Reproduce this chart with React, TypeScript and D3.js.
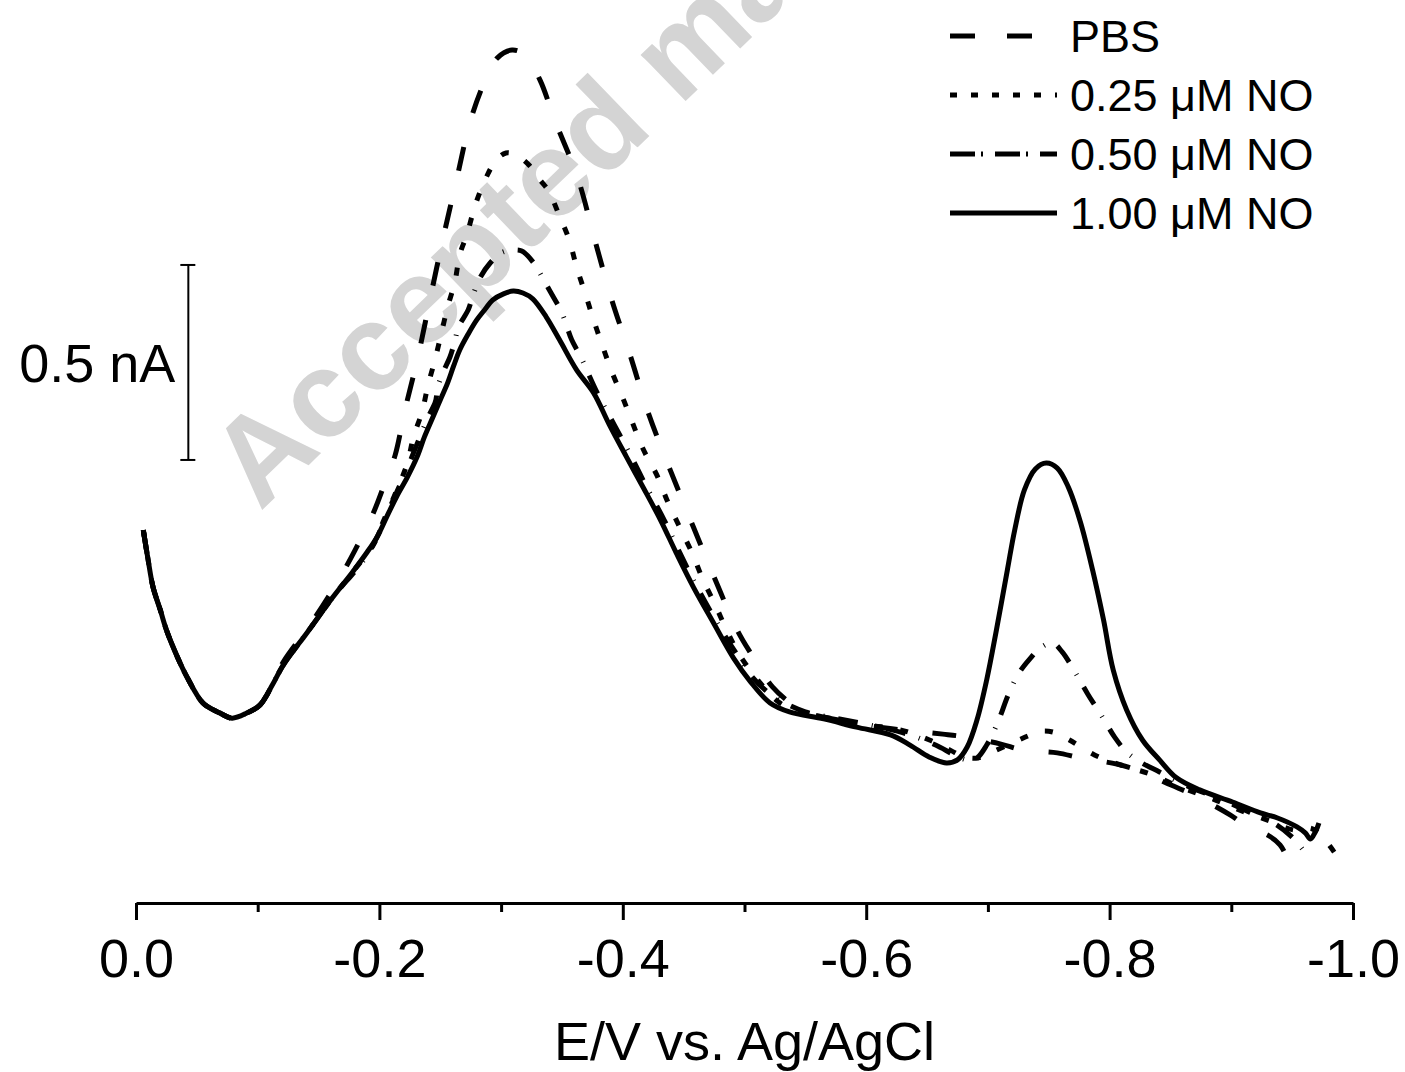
import React, { useEffect, useRef } from 'react';
import * as d3 from 'd3';

// potential (V vs Ag/AgCl) and current (nA, arbitrary offset)
const commonStart = [
  [-0.006, 0.956], [-0.010, 0.879], [-0.014, 0.810], [-0.020, 0.751], [-0.025, 0.700],
  [-0.034, 0.631], [-0.042, 0.579], [-0.055, 0.513], [-0.069, 0.487], [-0.079, 0.474],
  [-0.091, 0.487], [-0.102, 0.508],
];

const pbs = [
  [-0.121, 0.618], [-0.143, 0.713], [-0.164, 0.815], [-0.180, 0.905], [-0.195, 1.000],
  [-0.206, 1.090], [-0.213, 1.149], [-0.221, 1.264], [-0.232, 1.405], [-0.242, 1.554],
  [-0.252, 1.700], [-0.263, 1.849], [-0.275, 2.008], [-0.287, 2.110], [-0.297, 2.167],
  [-0.309, 2.187], [-0.320, 2.174], [-0.332, 2.110], [-0.344, 2.008], [-0.363, 1.859],
  [-0.377, 1.700], [-0.391, 1.546], [-0.406, 1.405], [-0.421, 1.256], [-0.439, 1.110],
  [-0.458, 0.964], [-0.477, 0.821], [-0.494, 0.700], [-0.506, 0.636], [-0.523, 0.554],
  [-0.540, 0.508], [-0.554, 0.485], [-0.578, 0.469], [-0.603, 0.454], [-0.628, 0.444],
  [-0.663, 0.433], [-0.681, 0.426], [-0.710, 0.408], [-0.729, 0.392], [-0.757, 0.385],
  [-0.776, 0.372], [-0.806, 0.356], [-0.825, 0.338], [-0.850, 0.303], [-0.869, 0.277],
  [-0.899, 0.226], [-0.915, 0.192], [-0.930, 0.174], [-0.940, 0.149], [-0.947, 0.110],
  [-0.952, 0.085], [-0.958, 0.069],
];

const no025 = [
  [-0.112, 0.559], [-0.121, 0.610], [-0.141, 0.695], [-0.162, 0.785], [-0.178, 0.849],
  [-0.195, 0.918], [-0.203, 0.977], [-0.215, 1.064], [-0.223, 1.128], [-0.228, 1.195],
  [-0.235, 1.259], [-0.240, 1.328], [-0.246, 1.397], [-0.251, 1.462], [-0.256, 1.528],
  [-0.262, 1.592], [-0.266, 1.662], [-0.272, 1.715], [-0.279, 1.792], [-0.288, 1.862],
  [-0.296, 1.905], [-0.304, 1.923], [-0.312, 1.918], [-0.323, 1.892], [-0.332, 1.854],
  [-0.339, 1.826], [-0.347, 1.769], [-0.356, 1.700], [-0.362, 1.631], [-0.369, 1.564],
  [-0.376, 1.495], [-0.383, 1.431], [-0.391, 1.362], [-0.400, 1.295], [-0.408, 1.231],
  [-0.417, 1.162], [-0.428, 1.097], [-0.437, 1.028], [-0.447, 0.962], [-0.457, 0.897],
  [-0.466, 0.828], [-0.476, 0.764], [-0.486, 0.695], [-0.496, 0.636], [-0.513, 0.564],
  [-0.529, 0.513], [-0.546, 0.490], [-0.570, 0.474], [-0.603, 0.456], [-0.628, 0.444],
  [-0.652, 0.418], [-0.669, 0.392], [-0.681, 0.374], [-0.692, 0.372], [-0.702, 0.385],
  [-0.722, 0.413], [-0.735, 0.431], [-0.745, 0.441], [-0.756, 0.436], [-0.767, 0.418],
  [-0.788, 0.379], [-0.809, 0.354], [-0.833, 0.331], [-0.858, 0.297], [-0.883, 0.269],
  [-0.907, 0.238], [-0.932, 0.210], [-0.952, 0.187], [-0.965, 0.192], [-0.973, 0.177],
  [-0.981, 0.146], [-0.988, 0.115],
];

const no050 = [
  [-0.112, 0.559], [-0.121, 0.610], [-0.141, 0.695], [-0.162, 0.785], [-0.187, 0.879],
  [-0.199, 0.944], [-0.207, 1.003], [-0.215, 1.059], [-0.223, 1.115], [-0.229, 1.162],
  [-0.235, 1.208], [-0.240, 1.246], [-0.246, 1.285], [-0.248, 1.323], [-0.252, 1.359],
  [-0.258, 1.400], [-0.262, 1.441], [-0.265, 1.477], [-0.273, 1.521], [-0.277, 1.559],
  [-0.283, 1.605], [-0.291, 1.641], [-0.300, 1.667], [-0.309, 1.674], [-0.317, 1.672],
  [-0.328, 1.636], [-0.334, 1.603], [-0.342, 1.559], [-0.350, 1.513], [-0.358, 1.444],
  [-0.365, 1.403], [-0.379, 1.308], [-0.393, 1.226], [-0.407, 1.144], [-0.420, 1.064],
  [-0.434, 0.982], [-0.447, 0.897], [-0.461, 0.810], [-0.477, 0.721], [-0.494, 0.636],
  [-0.507, 0.577], [-0.519, 0.541], [-0.533, 0.513], [-0.550, 0.490], [-0.578, 0.472],
  [-0.611, 0.451], [-0.636, 0.431], [-0.657, 0.405], [-0.673, 0.379], [-0.683, 0.367],
  [-0.691, 0.372], [-0.699, 0.405], [-0.708, 0.462], [-0.717, 0.536], [-0.726, 0.592],
  [-0.735, 0.628], [-0.743, 0.654], [-0.753, 0.667], [-0.761, 0.644], [-0.772, 0.590],
  [-0.782, 0.536], [-0.795, 0.472], [-0.804, 0.426], [-0.814, 0.387], [-0.825, 0.362],
  [-0.841, 0.336], [-0.866, 0.297], [-0.891, 0.267], [-0.915, 0.233], [-0.936, 0.203],
  [-0.950, 0.169], [-0.959, 0.136], [-0.962, 0.123],
];

const no100 = [
  [-0.112, 0.559], [-0.121, 0.610], [-0.141, 0.695], [-0.162, 0.785], [-0.178, 0.849],
  [-0.190, 0.900], [-0.198, 0.938], [-0.206, 0.990], [-0.214, 1.041], [-0.223, 1.092],
  [-0.231, 1.144], [-0.237, 1.195], [-0.244, 1.246], [-0.250, 1.290], [-0.256, 1.333],
  [-0.261, 1.377], [-0.266, 1.418], [-0.273, 1.459], [-0.280, 1.495], [-0.287, 1.523],
  [-0.293, 1.546], [-0.302, 1.562], [-0.310, 1.569], [-0.318, 1.564], [-0.326, 1.549],
  [-0.337, 1.503], [-0.348, 1.444], [-0.362, 1.367], [-0.376, 1.308], [-0.389, 1.226],
  [-0.403, 1.144], [-0.417, 1.064], [-0.431, 0.982], [-0.444, 0.897], [-0.458, 0.810],
  [-0.474, 0.721], [-0.491, 0.628], [-0.505, 0.567], [-0.521, 0.513], [-0.537, 0.490],
  [-0.565, 0.472], [-0.592, 0.451], [-0.620, 0.431], [-0.636, 0.405], [-0.652, 0.374],
  [-0.666, 0.359], [-0.675, 0.367], [-0.683, 0.400], [-0.691, 0.469], [-0.699, 0.572],
  [-0.707, 0.700], [-0.716, 0.854], [-0.722, 0.956], [-0.730, 1.059], [-0.739, 1.113],
  [-0.748, 1.128], [-0.757, 1.115], [-0.766, 1.067], [-0.776, 0.977], [-0.786, 0.854],
  [-0.795, 0.726], [-0.803, 0.597], [-0.814, 0.495], [-0.827, 0.418], [-0.841, 0.367],
  [-0.855, 0.321], [-0.874, 0.290], [-0.901, 0.259], [-0.924, 0.231], [-0.938, 0.218],
  [-0.954, 0.195], [-0.961, 0.179], [-0.965, 0.164], [-0.969, 0.182], [-0.972, 0.205],
];

const seriesNames = ['PBS', '0.25 \u03bcM NO', '0.50 \u03bcM NO', '1.00 \u03bcM NO'];
const seriesData = [
  commonStart.concat(pbs),
  commonStart.concat(no025),
  commonStart.concat(no050),
  commonStart.concat(no100),
];
const curveDash = ['24,35', '8,18', '20,14,1,14', null];
const legendDash = ['25,32', '7,14', '25,6,2,12', null];

const majorTicks = [0, -0.2, -0.4, -0.6, -0.8, -1.0];
const minorTicks = [-0.1, -0.3, -0.5, -0.7, -0.9];

// scale bar: 0.5 nA
const scaleBarE = -0.043;
const scaleBarLow = 1.136;
const scaleBarSize = 0.5;

const FONT = '"Liberation Sans", Arial, Helvetica, sans-serif';

const VoltammogramChart = () => {
  const ref = useRef<SVGSVGElement>(null);

  useEffect(() => {
    const svg = d3.select(ref.current);
    svg.selectAll('*').remove();

    const x = d3.scaleLinear().domain([0, -1]).range([136, 1353]);
    const y = d3.scaleLinear().domain([0, 903 / 390]).range([903, 0]);

    // watermark
    svg.append('text')
      .attr('transform', 'translate(260,512) rotate(-44)')
      .text('Accepted manuscript')
      .style('font-family', FONT)
      .style('font-weight', '700')
      .style('font-size', '122px')
      .style('fill', '#d4d4d4');

    const line = d3.line<number[]>()
      .x(d => x(d[0]))
      .y(d => y(d[1]))
      .curve(d3.curveCatmullRom.alpha(0.5));

    seriesData.forEach((data, i) => {
      svg.append('path')
        .datum(data)
        .attr('d', line)
        .attr('fill', 'none')
        .attr('stroke', '#000')
        .attr('stroke-width', 5)
        .attr('stroke-linejoin', 'round')
        .attr('stroke-dasharray', curveDash[i]);
    });

    // x axis
    const axis = svg.append('g')
      .attr('transform', `translate(0, ${y(0)})`)
      .call(d3.axisBottom(x).tickValues(majorTicks).tickSize(17).tickSizeOuter(0)
        .tickFormat(d => (+d).toFixed(1)));
    axis.select('.domain').attr('stroke-width', 3);
    axis.selectAll('.tick line').attr('stroke-width', 3);
    axis.selectAll('.tick text')
      .attr('y', 74).attr('dy', null)
      .attr('fill', '#000')
      .style('font-family', FONT)
      .style('font-size', '54px');

    const minor = svg.append('g')
      .attr('transform', `translate(0, ${y(0)})`)
      .call(d3.axisBottom(x).tickValues(minorTicks).tickSize(9).tickSizeOuter(0).tickFormat(() => ''));
    minor.select('.domain').remove();
    minor.selectAll('.tick line').attr('stroke-width', 3);

    svg.append('text')
      .attr('x', (x(0) + x(-1)) / 2).attr('y', 1060)
      .attr('text-anchor', 'middle')
      .text('E/V vs. Ag/AgCl')
      .style('font-family', FONT).style('font-size', '54px');

    // scale bar
    const sx = x(scaleBarE);
    const y0 = y(scaleBarLow), y1 = y(scaleBarLow + scaleBarSize);
    const bar = svg.append('g').attr('stroke', '#000').attr('stroke-width', 2);
    bar.append('line').attr('x1', sx).attr('x2', sx).attr('y1', y0).attr('y2', y1);
    bar.append('line').attr('x1', sx - 8).attr('x2', sx + 7).attr('y1', y0).attr('y2', y0);
    bar.append('line').attr('x1', sx - 8).attr('x2', sx + 7).attr('y1', y1).attr('y2', y1);
    svg.append('text')
      .attr('x', sx - 13).attr('y', (y0 + y1) / 2 + 20)
      .attr('text-anchor', 'end')
      .text('0.5 nA')
      .style('font-family', FONT).style('font-size', '54px');

    // legend
    const legend = svg.append('g');
    seriesNames.forEach((name, i) => {
      const ly = 36 + i * 59;
      legend.append('line')
        .attr('x1', 950).attr('x2', 1057).attr('y1', ly).attr('y2', ly)
        .attr('stroke', '#000').attr('stroke-width', 5)
        .attr('stroke-dasharray', legendDash[i]);
      legend.append('text')
        .attr('x', 1070).attr('y', ly + 16)
        .text(name)
        .style('font-family', FONT).style('font-size', '45px');
    });
  });

  return (
    <svg ref={ref} width={1405} height={1072}
      style={{ position: 'absolute', left: 0, top: 0, background: '#fff' }}></svg>
  );
};

export default function App() {
  return <VoltammogramChart />;
}
